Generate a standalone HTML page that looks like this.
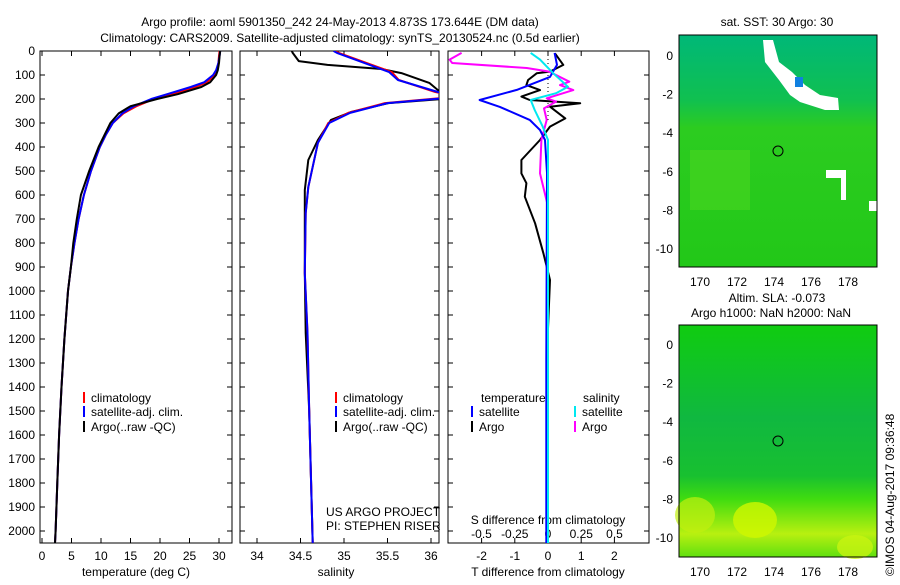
<!DOCTYPE html>
<html><head><meta charset="utf-8"><style>
body{margin:0;background:#fff;}
svg text{font-family:"Liberation Sans",sans-serif;font-size:12px;fill:#000;}
</style></head><body>
<svg id="c" width="900" height="580" viewBox="0 0 900 580" xmlns="http://www.w3.org/2000/svg">
<defs>
<linearGradient id="g1" x1="0" y1="0" x2="0" y2="1"><stop offset="0" stop-color="#00b878"/><stop offset="0.28" stop-color="#10c050"/><stop offset="0.4" stop-color="#2ccc20"/><stop offset="1" stop-color="#22c818"/></linearGradient>
<linearGradient id="g2" x1="0" y1="0" x2="0" y2="1"><stop offset="0" stop-color="#10cc10"/><stop offset="0.4" stop-color="#10b840"/><stop offset="0.65" stop-color="#18c030"/><stop offset="0.75" stop-color="#40dc10"/><stop offset="0.9" stop-color="#b8f010"/><stop offset="1" stop-color="#60e010"/></linearGradient>
<clipPath id="cp1"><rect x="448" y="51" width="201" height="492"/></clipPath>
<clipPath id="cp2"><rect x="240" y="51" width="199" height="492"/></clipPath>
</defs>
<text x="340" y="26" text-anchor="middle">Argo profile: aoml 5901350_242 24-May-2013 4.873S 173.644E (DM data)</text>
<text x="340" y="42" text-anchor="middle">Climatology: CARS2009. Satellite-adjusted climatology: synTS_20130524.nc (0.5d earlier)</text>
<g id="axes"></g>
<g id="maps">
<rect x="679" y="35" width="198" height="232" fill="url(#g1)"/>
<rect x="690" y="150" width="60" height="60" fill="#50d820" opacity="0.5"/>
<polygon points="763,40 773,40 779,62 792,72 805,85 820,95 838,98 839,110 825,110 800,102 790,95 779,80 765,62" fill="#fff"/>
<rect x="795" y="77" width="8" height="10" fill="#1080e0"/>
<rect x="826" y="170" width="20" height="8" fill="#fff"/>
<rect x="841" y="170" width="5" height="30" fill="#fff"/>
<rect x="869" y="201" width="8" height="10" fill="#fff"/>
<circle cx="778" cy="151" r="5" fill="none" stroke="#000"/>
<rect x="679" y="35" width="198" height="232" fill="none" stroke="#000"/>
<text x="777" y="26" text-anchor="middle">sat. SST: 30 Argo: 30</text>
<text x="777" y="302" text-anchor="middle">Altim. SLA: -0.073</text>
<text x="771" y="317" text-anchor="middle">Argo h1000: NaN h2000: NaN</text>
<rect x="679" y="325" width="198" height="232" fill="url(#g2)"/>
<ellipse cx="755" cy="520" rx="22" ry="18" fill="#d0f800" opacity="0.8"/>
<ellipse cx="695" cy="515" rx="20" ry="18" fill="#c0f010" opacity="0.7"/>
<ellipse cx="855" cy="547" rx="18" ry="12" fill="#c8f410" opacity="0.8"/>
<circle cx="778" cy="441" r="5" fill="none" stroke="#000"/>
<rect x="679" y="325" width="198" height="232" fill="none" stroke="#000"/>
<text transform="translate(894,576) rotate(-90)">©IMOS 04-Aug-2017 09:36:48</text>
</g>
</svg>
<script>
const NS='http://www.w3.org/2000/svg';
const svg=document.getElementById('c');
const G=document.getElementById('axes');
// depth axis
const depthTicks=[0,100,200,300,400,500,600,700,800,900,1000,1100,1200,1300,1400,1500,1600,1700,1800,1900,2000];
// temperature profile
const tDepth=[0,20,50,80,100,130,150,180,200,230,260,300,350,400,500,600,700,800,900,1000,1200,1400,1600,1800,2000,2050];
const tClim=[30.1,30.0,29.9,29.6,29.2,28.0,26.0,22.0,19.0,16.0,13.8,12.0,10.8,9.8,8.3,7.1,6.2,5.5,4.9,4.4,3.8,3.3,2.9,2.6,2.3,2.2];
const tSat=[30.2,30.1,29.9,29.5,29.0,27.5,25.2,21.2,18.5,15.6,13.6,12.0,10.8,9.8,8.3,7.1,6.2,5.5,4.9,4.4,3.8,3.3,2.9,2.6,2.3,2.2];
const tArgo=[30.2,30.1,30.0,29.8,29.5,28.5,27.0,23.0,19.5,15.0,13.0,11.6,10.6,9.6,8.0,6.6,5.9,5.3,4.9,4.4,3.8,3.3,2.9,2.6,2.3,2.2];
// salinity profile
const sDepth=[0,8,88,121,171,190,217,258,300,383,567,675,925,1175,1500,2050];
const sClim=[34.9,34.94,35.55,35.63,36.05,36.3,35.47,35.05,34.82,34.7,34.59,34.56,34.55,34.58,34.6,34.64];
const sSat=[34.88,34.92,35.52,35.62,36.08,36.35,35.5,35.07,34.83,34.7,34.59,34.56,34.55,34.58,34.6,34.64];
const sArgoD=[0,8,42,58,75,92,133,175,195,217,254,287,371,454,579,925,1175,1500,2050];
const sArgo=[34.4,34.41,34.48,34.81,35.43,35.66,35.98,36.12,36.3,35.51,35.08,34.85,34.7,34.59,34.55,34.55,34.56,34.6,34.64];
// differences
const dtSatD=[8,58,108,162,204,233,287,329,371,508,1287,2050];
const dtSat=[0.2,0.27,0.06,-0.94,-2.06,-1.45,-0.55,-0.24,-0.09,-0.03,-0.05,-0.05];
const dtArgoD=[10,58,86,93,121,142,163,190,204,218,232,281,315,371,454,510,551,607,718,843,954,1287,2050];
const dtArgo=[0.21,0.46,0.06,-0.34,-0.6,-0.65,-0.24,-0.8,-0.55,0.97,0.06,0.52,0.06,-0.24,-0.8,-0.8,-0.65,-0.7,-0.39,-0.14,0.06,-0.04,0];
const dsArgoD=[8,36,50,71,86,128,142,163,197,211,239,287,371,510,648,1287,2050];
const dsArgo=[-0.65,-0.74,-0.72,-0.16,0.01,0.16,0.09,0.19,-0.01,0.06,-0.03,-0.01,-0.05,-0.06,0,0,0];
const dsSatD=[8,36,93,149,176,204,246,315,371,1287,2050];
const dsSat=[-0.13,-0.06,0.04,0.15,0.06,-0.13,-0.1,-0.04,0,0,0];
// ticks
const tTicks=[0,5,10,15,20,25,30];
const sTicks=[34,34.5,35,35.5,36];
const tdTicks=[-2,-1,0,1,2];
const sdTicks=[-0.5,-0.25,0,0.25,0.5];
const lonTicks=[170,172,174,176,178];
const latTicks=[0,-2,-4,-6,-8,-10];

const yD=d=>51+d*0.24;
const xT=t=>42+t*5.9;
const xS=s=>257+(s-34)*87;
const xTd=t=>548+t*33.2;
const xSd=s=>548+s*133;
const xLon=l=>700+(l-170)*18.5;
const yLat1=l=>56-l*19.3;
const yLat2=l=>345-l*19.3;

function el(tag,attrs,parent){const e=document.createElementNS(NS,tag);for(const k in attrs)e.setAttribute(k,attrs[k]);(parent||G).appendChild(e);return e;}
function txt(x,y,s,anchor,name){const t=el('text',{x:x,y:y,'text-anchor':anchor||'middle'});t.textContent=s;


return t;}
function line(xs,ys,color,name,clip){const p=xs.map((x,i)=>x.toFixed(1)+','+ys[i].toFixed(1)).join(' ');
const e=el('polyline',{points:p,fill:'none',stroke:color,'stroke-width':2,'stroke-linejoin':'round'});
if(clip)e.setAttribute('clip-path',clip);

}

// frames
const frames=[[40,192,'temperature-panel'],[240,199,'salinity-panel'],[448,201,'difference-panel']];
frames.forEach(f=>{const r=el('rect',{x:f[0],y:51,width:f[1],height:492,fill:'none',stroke:'#000'});

});
// depth ticks
depthTicks.forEach(d=>{const y=yD(d);txt(35,y+4,String(d),'end','depth-tick-label');
[[40,45],[227,232],[240,245],[434,439],[448,453],[644,649]].forEach(a=>el('line',{x1:a[0],x2:a[1],y1:y,y2:y,stroke:'#000'}));});
// temperature ticks
tTicks.forEach(t=>{const x=xT(t);el('line',{x1:x,x2:x,y1:538,y2:543,stroke:'#000'});el('line',{x1:x,x2:x,y1:51,y2:56,stroke:'#000'});txt(x,560,String(t),'middle','temp-tick-label');});
txt(136,576,'temperature (deg C)','middle','temp-axis-title');
sTicks.forEach(s=>{const x=xS(s);el('line',{x1:x,x2:x,y1:538,y2:543,stroke:'#000'});el('line',{x1:x,x2:x,y1:51,y2:56,stroke:'#000'});txt(x,560,String(s),'middle','sal-tick-label');});
txt(336,576,'salinity','middle','sal-axis-title');
tdTicks.forEach(t=>{const x=xTd(t);el('line',{x1:x,x2:x,y1:538,y2:543,stroke:'#000'});el('line',{x1:x,x2:x,y1:51,y2:56,stroke:'#000'});txt(x,560,String(t),'middle','tdiff-tick-label');});
sdTicks.forEach(s=>{txt(xSd(s),538,String(s),'middle','sdiff-tick-label');});
txt(548,524,'S difference from climatology','middle','sdiff-axis-title');
txt(548,576,'T difference from climatology','middle','tdiff-axis-title');
// zero dotted line
el('line',{x1:548,x2:548,y1:51,y2:120,stroke:'#000','stroke-dasharray':'1,3'});
// map ticks
lonTicks.forEach(l=>{const x=xLon(l);[[35,40],[262,267],[325,330],[552,557]].forEach(a=>el('line',{x1:x,x2:x,y1:a[0],y2:a[1],stroke:'#000'}));
txt(x,286,String(l),'middle','sst-lon-label');txt(x,576,String(l),'middle','sla-lon-label');});
latTicks.forEach(l=>{const y1=yLat1(l),y2=yLat2(l);
[[y1],[y2]].forEach(a=>{el('line',{x1:679,x2:684,y1:a[0],y2:a[0],stroke:'#000'});el('line',{x1:872,x2:877,y1:a[0],y2:a[0],stroke:'#000'});});
txt(673,y1+4,String(l),'end','sst-lat-label');txt(673,y2+4,String(l),'end','sla-lat-label');});

// series
line(tClim.map(xT),tDepth.map(yD),'#ff0000','temp-climatology-line');
line(tSat.map(xT),tDepth.map(yD),'#0000ff','temp-satellite-line');
line(tArgo.map(xT),tDepth.map(yD),'#000000','temp-argo-line');
line(sArgo.map(xS),sArgoD.map(yD),'#000000','sal-argo-line','url(#cp2)');
line(sClim.map(xS),sDepth.map(yD),'#ff0000','sal-climatology-line','url(#cp2)');
line(sSat.map(xS),sDepth.map(yD),'#0000ff','sal-satellite-line','url(#cp2)');
line(dtArgo.map(xTd),dtArgoD.map(yD),'#000000','tdiff-argo-line','url(#cp1)');
line(dsArgo.map(xSd),dsArgoD.map(yD),'#ff00ff','sdiff-argo-line','url(#cp1)');
line(dtSat.map(xTd),dtSatD.map(yD),'#0000ff','tdiff-satellite-line','url(#cp1)');
line(dsSat.map(xSd),dsSatD.map(yD),'#00e8f0','sdiff-satellite-line','url(#cp1)');

// legends
function leg(x,y,c,label,name){const l=el('line',{x1:x,x2:x,y1:y-10,y2:y+1,stroke:c,'stroke-width':2});


txt(x+7,y,label,'start',name);}
[[84,'temp'],[336,'sal']].forEach(p=>{
leg(p[0],402,'#ff0000','climatology',p[1]+'-legend-climatology');
leg(p[0],416,'#0000ff','satellite-adj. clim.',p[1]+'-legend-satellite');
leg(p[0],431,'#000000','Argo(..raw -QC)',p[1]+'-legend-argo');});
txt(481,402,'temperature','start','legend-temperature-header');
txt(583,402,'salinity','start','legend-salinity-header');
leg(472,416,'#0000ff','satellite','tdiff-legend-satellite');
leg(472,431,'#000000','Argo','tdiff-legend-argo');
leg(575,416,'#00e8f0','satellite','sdiff-legend-satellite');
leg(575,431,'#ff00ff','Argo','sdiff-legend-argo');
txt(326,516,'US ARGO PROJECT','start','project-label');
txt(326,530,'PI: STEPHEN RISER','start','pi-label');
</script>
</body></html>
